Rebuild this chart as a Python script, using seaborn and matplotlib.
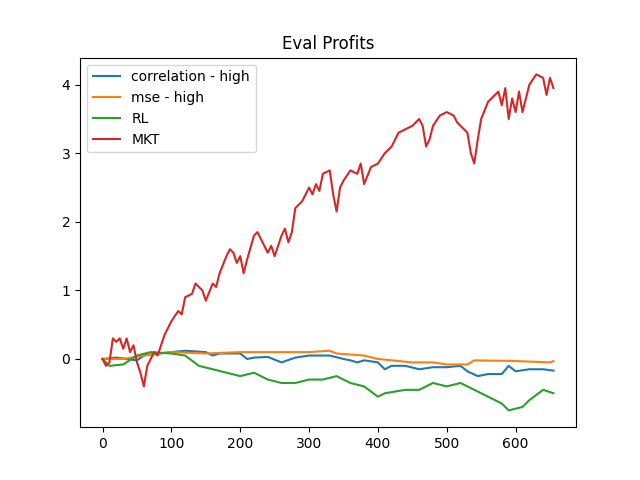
import pandas as pd
import matplotlib
matplotlib.use("Agg")
import matplotlib.pyplot as plt
import seaborn as sns

# Valores leídos a ojo del gráfico original (muestreados)
mkt_x = [0, 5, 10, 15, 20, 25, 30, 35, 40, 45, 50, 55, 60, 65, 70, 75, 80, 85, 90, 95, 100,
         110, 115, 120, 130, 135, 140, 145, 150, 160, 165, 170, 180, 185, 190, 195, 200, 205,
         210, 220, 225, 230, 240, 245, 250, 260, 265, 270, 275, 280, 290, 300, 305, 310, 315,
         320, 330, 335, 340, 345, 350, 360, 370, 375, 380, 390, 400, 410, 420, 430, 440, 450,
         460, 465, 470, 475, 480, 490, 500, 510, 515, 520, 530, 535, 540, 545, 550, 560, 570,
         575, 580, 585, 590, 595, 600, 605, 610, 620, 630, 640, 645, 650, 655]
mkt_y = [0, -0.1, -0.05, 0.3, 0.25, 0.3, 0.15, 0.3, 0.1, 0.2, -0.05, -0.2, -0.4, -0.1, 0.0,
         0.1, 0.05, 0.2, 0.35, 0.45, 0.55, 0.7, 0.65, 0.9, 0.95, 1.1, 1.05, 1.0, 0.85, 1.1,
         1.05, 1.25, 1.5, 1.6, 1.55, 1.4, 1.5, 1.25, 1.45, 1.8, 1.85, 1.75, 1.55, 1.65, 1.5,
         1.8, 1.9, 1.7, 1.85, 2.2, 2.3, 2.5, 2.4, 2.55, 2.45, 2.7, 2.75, 2.4, 2.15, 2.5, 2.6,
         2.75, 2.7, 2.85, 2.55, 2.8, 2.85, 3.0, 3.1, 3.3, 3.35, 3.4, 3.5, 3.4, 3.1, 3.2, 3.4,
         3.55, 3.6, 3.55, 3.45, 3.4, 3.3, 3.0, 2.85, 3.2, 3.5, 3.75, 3.85, 3.9, 3.7, 3.95, 3.5,
         3.8, 3.6, 3.9, 3.6, 4.0, 4.15, 4.1, 3.85, 4.1, 3.95]

corr_x = [0, 20, 50, 60, 80, 100, 120, 150, 160, 170, 200, 210, 220, 240, 260, 280, 300, 330,
          350, 360, 370, 380, 400, 410, 420, 440, 460, 480, 500, 520, 530, 545, 560, 580, 590,
          600, 620, 640, 655]
corr_y = [0, 0.02, -0.02, 0.05, 0.08, 0.1, 0.12, 0.1, 0.05, 0.08, 0.08, 0.0, 0.02, 0.03, -0.05,
          0.02, 0.05, 0.05, 0.0, -0.02, -0.05, -0.02, -0.05, -0.15, -0.1, -0.1, -0.15, -0.12,
          -0.12, -0.1, -0.18, -0.25, -0.22, -0.22, -0.1, -0.18, -0.15, -0.15, -0.17]

mse_x = [0, 30, 60, 100, 150, 200, 250, 300, 330, 340, 380, 400, 420, 450, 480, 500, 530, 540,
         600, 650, 655]
mse_y = [0, 0, 0.05, 0.1, 0.08, 0.1, 0.1, 0.1, 0.12, 0.08, 0.05, 0.0, -0.02, -0.05, -0.05,
         -0.08, -0.08, -0.02, -0.03, -0.05, -0.03]

rl_x = [0, 10, 30, 50, 70, 100, 120, 140, 160, 180, 200, 220, 240, 260, 280, 300, 320, 340,
        350, 360, 380, 400, 410, 440, 460, 480, 500, 520, 540, 560, 580, 590, 610, 620, 640, 655]
rl_y = [0, -0.1, -0.08, 0.05, 0.1, 0.08, 0.05, -0.1, -0.15, -0.2, -0.25, -0.2, -0.3, -0.35,
        -0.35, -0.3, -0.3, -0.25, -0.3, -0.35, -0.4, -0.55, -0.5, -0.45, -0.45, -0.35, -0.4,
        -0.35, -0.45, -0.55, -0.65, -0.75, -0.7, -0.6, -0.45, -0.5]

series = [("correlation - high", corr_x, corr_y),
          ("mse - high", mse_x, mse_y),
          ("RL", rl_x, rl_y),
          ("MKT", mkt_x, mkt_y)]
df = pd.concat([pd.DataFrame({"step": x, "profit": y, "modelo": n}) for n, x, y in series],
               ignore_index=True)

fig, ax = plt.subplots(figsize=(6.4, 4.8), dpi=100)
sns.lineplot(data=df, x="step", y="profit", hue="modelo", palette="tab10", ax=ax,
             estimator=None, sort=False)
ax.set_title("Eval Profits")
ax.set_xlabel("")
ax.set_ylabel("")
ax.legend(title=None, loc="upper left")
plt.savefig("out.png")
